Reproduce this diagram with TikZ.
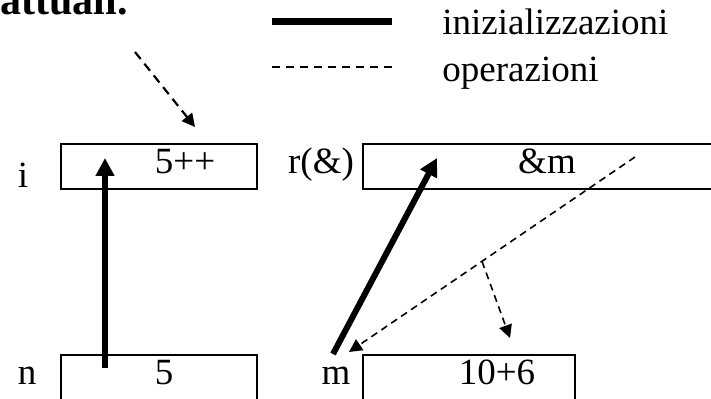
\documentclass[tikz,border=0pt]{standalone}
\usepackage{fontspec}
\setmainfont{Liberation Serif}
\usetikzlibrary{arrows.meta,calc}
\begin{document}
\begin{tikzpicture}[x=0.5pt,y=-0.5pt,
  box/.style={draw,line width=0.9pt,inner sep=0pt,anchor=north west},
  lbl/.style={font=\fontsize{18.5}{20}\selectfont,inner sep=0pt,anchor=base},
  init/.style={line width=3pt,-{Triangle[length=9pt,width=9pt]}},
  oper/.style={line width=0.8pt,dash pattern=on 3.5pt off 2.5pt,-{Triangle[length=6.5pt,width=6.5pt]}}]
\useasboundingbox (0,0) rectangle (711,399);
\clip (0,0) rectangle (711,399);
% title
\node[font=\fontsize{21}{24}\selectfont\bfseries,inner sep=0pt,anchor=base east] (title) at (128,15) {attuali.};
% legend
\coordinate (l1a) at (272,22);
\coordinate (l1b) at (392,22);
\coordinate (l2a) at (272,67);
\coordinate (l2b) at (392,67);
\draw[line width=3.5pt] (l1a) -- (l1b);
\draw[line width=1pt,dash pattern=on 4pt off 3pt] (l2a) -- (l2b);
\node[lbl,anchor=base west] (tinit) at (442,35) {inizializzazioni};
\node[lbl,anchor=base west] (toper) at (442,82) {operazioni};
% boxes
\node[box,minimum width=98pt,minimum height=22.5pt] (bi) at (60,143) {};
\node[box,minimum width=98pt,minimum height=25pt] (bn) at (60,354) {};
\node[box,minimum width=180pt,minimum height=22.5pt] (br) at (362,143) {};
\node[box,minimum width=106pt,minimum height=25pt] (bm) at (362,354) {};
% contents
\node[lbl] (vi) at (185,174) {5++};
\node[lbl] (vn) at (164,385) {5};
\node[lbl] (vr) at (547,174) {\&m};
\node[lbl] (vm) at (497,385) {10+6};
% names
\node[lbl] (ni) at (23,188) {i};
\node[lbl] (nn) at (27,385) {n};
\node[lbl] (nr) at (321,174) {r(\&)};
\node[lbl] (nm) at (336,385) {m};
% connectors
\coordinate (a1s) at (105,368);
\coordinate (a1e) at (105,158);
\draw[init] (a1s) -- (a1e);
\coordinate (a2s) at (333,354);
\coordinate (a2e) at (437,158);
\draw[init] (a2s) -- (a2e);
\coordinate (d1s) at (135,52);
\coordinate (d1e) at (195,127);
\draw[oper,line width=1.1pt,dash pattern=on 4.5pt off 3pt] (d1s) -- (d1e);
\coordinate (d2s) at (635,157);
\coordinate (d2e) at (349,352);
\draw[oper] (d2s) -- (d2e);
\coordinate (d3s) at ($(d2s)!0.535!(d2e)$);
\coordinate (d3e) at (510,338);
\draw[oper] (d3s) -- (d3e);
\end{tikzpicture}
\end{document}
